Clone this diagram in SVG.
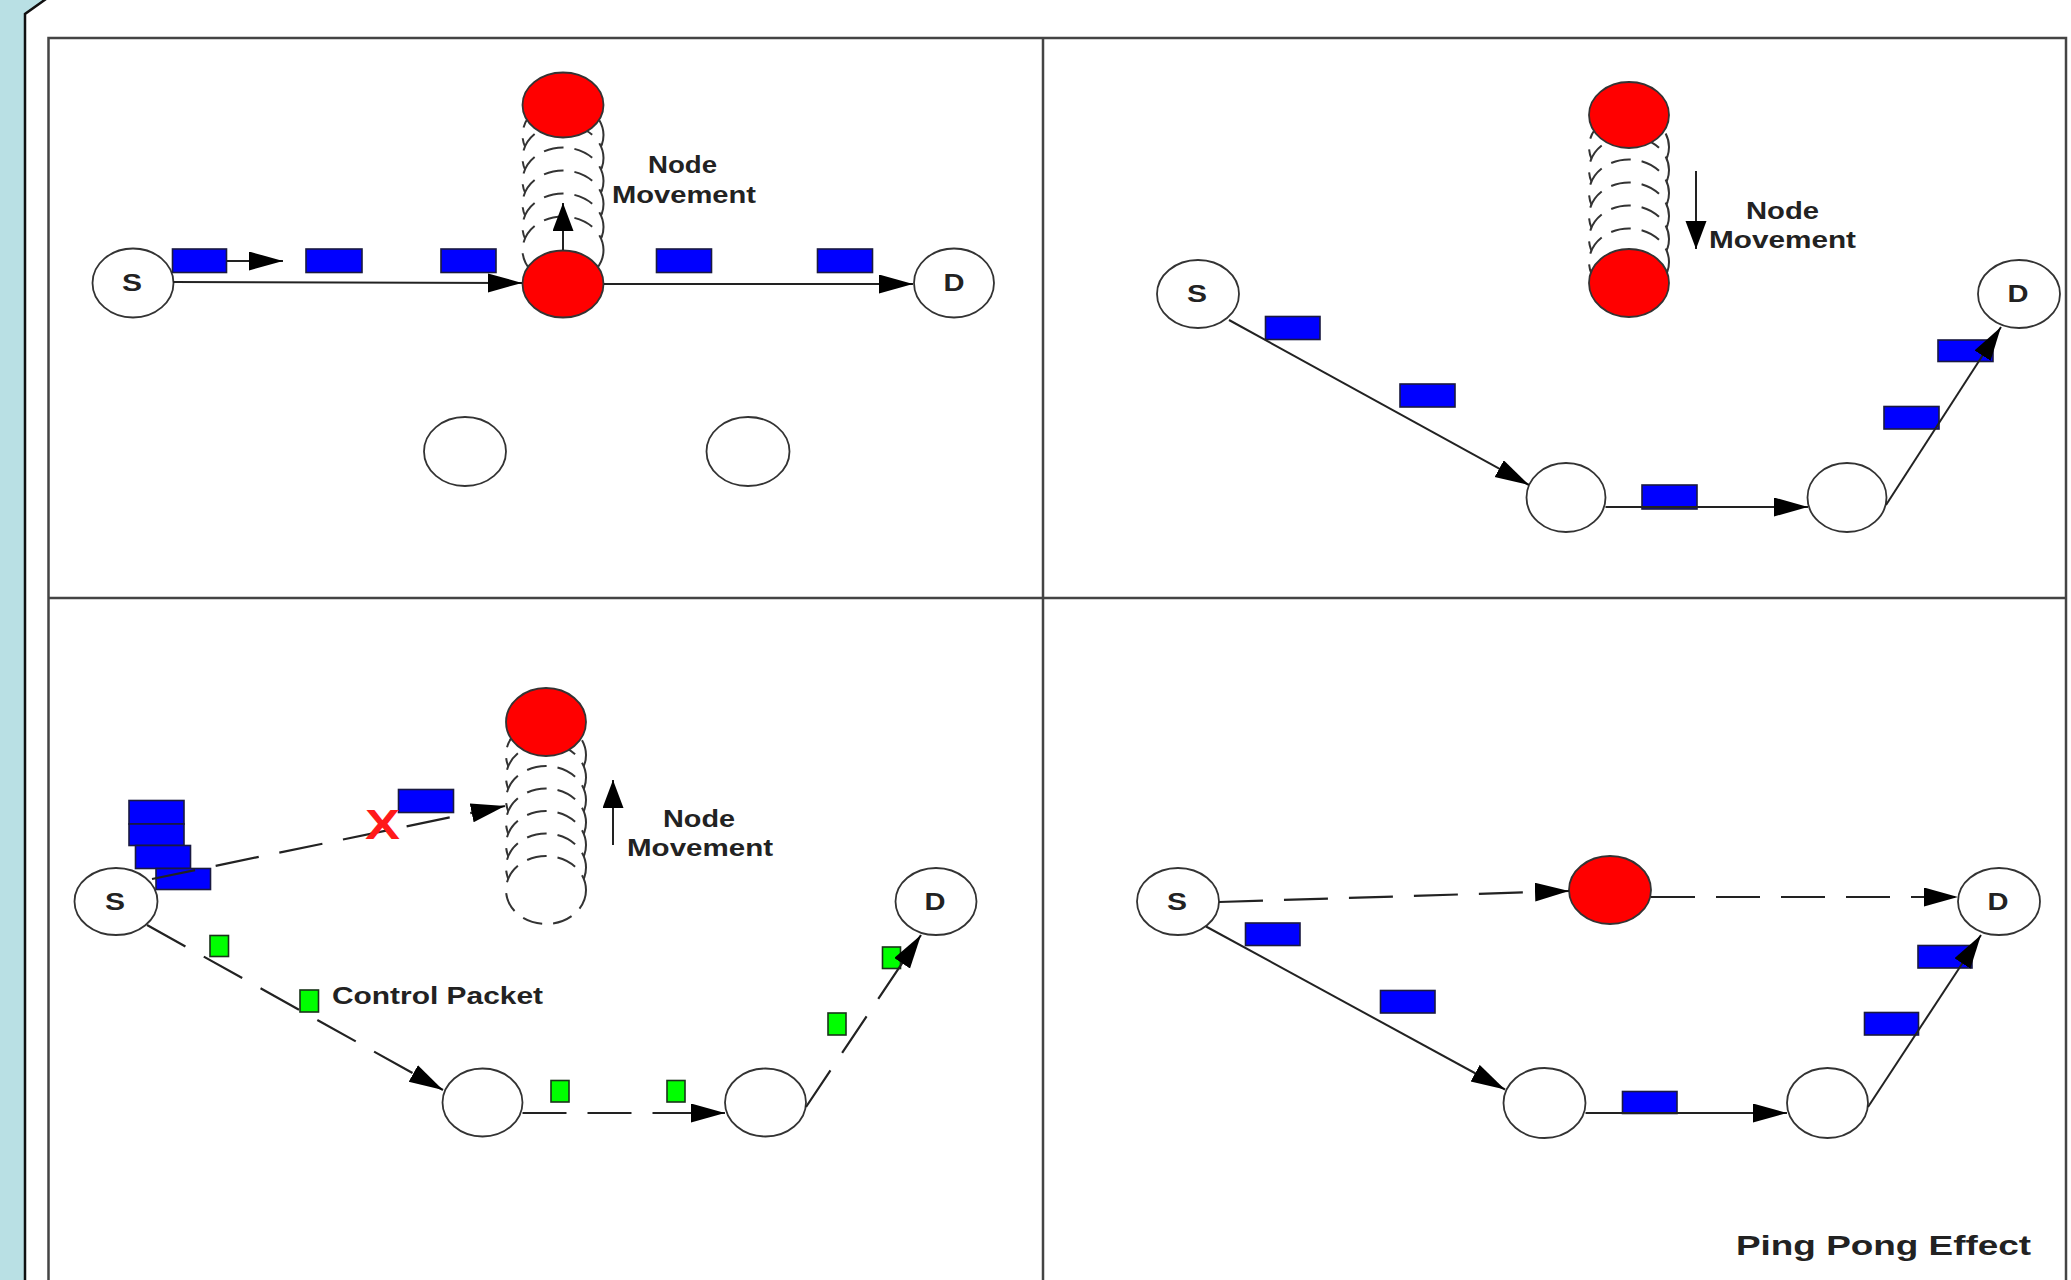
<svg xmlns="http://www.w3.org/2000/svg" width="2071" height="1280" viewBox="0 0 2071 1280">
<style>
.frame{fill:none;stroke:#444;stroke-width:2.5}
.node{fill:#fff;stroke:#333;stroke-width:1.8}
.red{fill:#ff0000;stroke:#333;stroke-width:1.8}
.ghost{fill:#fff;stroke:#333;stroke-width:2;stroke-dasharray:20 11}
.pkt{fill:#0000ff;stroke:#1a1a40;stroke-width:1.6}
.ctl{fill:#00ff00;stroke:#1a331a;stroke-width:1.6}
.ln{fill:none;stroke:#222;stroke-width:2;marker-end:url(#ah)}
.dl{fill:none;stroke:#222;stroke-width:2.2;stroke-dasharray:44 21;marker-end:url(#ah)}
.vl{fill:none;stroke:#222;stroke-width:2;marker-end:url(#av)}
.lbl{font-family:"Liberation Sans",Arial,sans-serif;font-weight:bold;fill:#222}
.nl{font-family:"Liberation Sans",Arial,sans-serif;font-weight:bold;font-size:24px;fill:#222;text-anchor:middle}
</style>
<defs>
<marker id="ah" markerUnits="userSpaceOnUse" markerWidth="36" markerHeight="20" refX="34" refY="9.5" orient="auto">
<path d="M0,0 L34,9.5 L0,19 z" fill="#000"/>
</marker>
<marker id="av" markerUnits="userSpaceOnUse" markerWidth="30" markerHeight="22" refX="28" refY="10.5" orient="auto">
<path d="M0,0 L28,10.5 L0,21 z" fill="#000"/>
</marker>
</defs>
<g id="background">
<rect x="0" y="0" width="2071" height="1280" fill="#fff"/>
<polygon points="0,0 46,0 25,14 25,1280 0,1280" fill="#b9e0e4"/>
<polyline points="25,1282 25,14 46,-1" fill="none" stroke="#111" stroke-width="2.5"/>
<rect class="frame" x="48.5" y="38" width="2017.5" height="1262"/>
<line class="frame" x1="1043" y1="38" x2="1043" y2="1290"/>
<line class="frame" x1="48.5" y1="598" x2="2066" y2="598"/>
</g>
<g id="ghost-trails">
<ellipse class="ghost" cx="563" cy="135" rx="40.5" ry="33.5"/>
<ellipse class="ghost" cx="563" cy="158" rx="40.5" ry="33.5"/>
<ellipse class="ghost" cx="563" cy="181" rx="40.5" ry="33.5"/>
<ellipse class="ghost" cx="563" cy="204" rx="40.5" ry="33.5"/>
<ellipse class="ghost" cx="563" cy="227" rx="40.5" ry="33.5"/>
<ellipse class="ghost" cx="563" cy="250" rx="40.5" ry="33.5"/>
<ellipse class="ghost" cx="1629" cy="147" rx="40" ry="33.5"/>
<ellipse class="ghost" cx="1629" cy="170" rx="40" ry="33.5"/>
<ellipse class="ghost" cx="1629" cy="193" rx="40" ry="33.5"/>
<ellipse class="ghost" cx="1629" cy="216" rx="40" ry="33.5"/>
<ellipse class="ghost" cx="1629" cy="239" rx="40" ry="33.5"/>
<ellipse class="ghost" cx="1629" cy="262" rx="40" ry="33.5"/>
<ellipse class="ghost" cx="546" cy="755" rx="40" ry="34"/>
<ellipse class="ghost" cx="546" cy="777.5" rx="40" ry="34"/>
<ellipse class="ghost" cx="546" cy="800" rx="40" ry="34"/>
<ellipse class="ghost" cx="546" cy="822.5" rx="40" ry="34"/>
<ellipse class="ghost" cx="546" cy="845" rx="40" ry="34"/>
<ellipse class="ghost" cx="546" cy="867.5" rx="40" ry="34"/>
<ellipse class="ghost" cx="546" cy="890" rx="40" ry="34"/>
</g>
<g id="p1-S"><ellipse class="node" cx="133" cy="283" rx="40.5" ry="34.5"/><text class="nl" x="132" y="291" textLength="20" lengthAdjust="spacingAndGlyphs">S</text></g>
<g id="p1-red-top"><ellipse class="red" cx="563" cy="105" rx="40.5" ry="32.5"/></g>
<g id="p1-red"><ellipse class="red" cx="563" cy="284" rx="40.5" ry="33.5"/></g>
<g id="p1-D"><ellipse class="node" cx="954" cy="283" rx="40" ry="34.5"/><text class="nl" x="954" y="291" textLength="21" lengthAdjust="spacingAndGlyphs">D</text></g>
<g id="p1-n1"><ellipse class="node" cx="465" cy="451.5" rx="41" ry="34.5"/></g>
<g id="p1-n2"><ellipse class="node" cx="748" cy="451.5" rx="41.5" ry="34.5"/></g>
<g id="p2-S"><ellipse class="node" cx="1198" cy="294" rx="41" ry="34"/><text class="nl" x="1197" y="302" textLength="20" lengthAdjust="spacingAndGlyphs">S</text></g>
<g id="p2-red-top"><ellipse class="red" cx="1629" cy="115" rx="40" ry="33"/></g>
<g id="p2-red"><ellipse class="red" cx="1629" cy="283" rx="40" ry="34"/></g>
<g id="p2-D"><ellipse class="node" cx="2019" cy="294" rx="41" ry="34"/><text class="nl" x="2018" y="302" textLength="21" lengthAdjust="spacingAndGlyphs">D</text></g>
<g id="p2-n1"><ellipse class="node" cx="1566" cy="497.5" rx="39.5" ry="34.5"/></g>
<g id="p2-n2"><ellipse class="node" cx="1847" cy="497.5" rx="39.5" ry="34.5"/></g>
<g id="p3-S"><ellipse class="node" cx="116" cy="901.5" rx="41.5" ry="33.5"/><text class="nl" x="115" y="910" textLength="20" lengthAdjust="spacingAndGlyphs">S</text></g>
<g id="p3-red"><ellipse class="red" cx="546" cy="722" rx="40" ry="34"/></g>
<g id="p3-D"><ellipse class="node" cx="936" cy="901.5" rx="40.5" ry="33.5"/><text class="nl" x="935" y="910" textLength="21" lengthAdjust="spacingAndGlyphs">D</text></g>
<g id="p3-n1"><ellipse class="node" cx="482.5" cy="1102.5" rx="40" ry="34"/></g>
<g id="p3-n2"><ellipse class="node" cx="765.5" cy="1102.5" rx="40.5" ry="34"/></g>
<g id="p4-S"><ellipse class="node" cx="1178" cy="901.5" rx="41" ry="33.5"/><text class="nl" x="1177" y="910" textLength="20" lengthAdjust="spacingAndGlyphs">S</text></g>
<g id="p4-red"><ellipse class="red" cx="1610" cy="890" rx="41" ry="34"/></g>
<g id="p4-D"><ellipse class="node" cx="1999" cy="901.5" rx="41" ry="33.5"/><text class="nl" x="1998" y="910" textLength="21" lengthAdjust="spacingAndGlyphs">D</text></g>
<g id="p4-n1"><ellipse class="node" cx="1544.5" cy="1103" rx="41" ry="35"/></g>
<g id="p4-n2"><ellipse class="node" cx="1827.5" cy="1103" rx="40.5" ry="35"/></g>
<g id="packets">
<rect class="pkt" x="172.5" y="249" width="54" height="23.5"/>
<rect class="pkt" x="306" y="249" width="56" height="23.5"/>
<rect class="pkt" x="441" y="249" width="55" height="23.5"/>
<rect class="pkt" x="656.5" y="249" width="55" height="23.5"/>
<rect class="pkt" x="817.5" y="249" width="55" height="23.5"/>
<rect class="pkt" x="1265.5" y="316.5" width="54.5" height="23"/>
<rect class="pkt" x="1400" y="384" width="55" height="23"/>
<rect class="pkt" x="1642" y="485" width="55" height="24"/>
<rect class="pkt" x="1884" y="406.5" width="55" height="22.5"/>
<rect class="pkt" x="1938" y="340" width="55" height="21.5"/>
<rect class="pkt" x="129" y="800.5" width="55" height="23.5"/>
<rect class="pkt" x="129" y="824" width="55" height="21.5"/>
<rect class="pkt" x="135.5" y="845.5" width="55" height="23"/>
<rect class="pkt" x="156" y="868.5" width="54.5" height="21"/>
<rect class="pkt" x="398.5" y="789.5" width="55" height="23"/>
<rect class="pkt" x="1245.5" y="923" width="54.5" height="22.5"/>
<rect class="pkt" x="1380.5" y="990.5" width="54.5" height="22.5"/>
<rect class="pkt" x="1622.5" y="1091.5" width="54.5" height="22"/>
<rect class="pkt" x="1864.5" y="1012.5" width="54" height="22.5"/>
<rect class="pkt" x="1918" y="945.5" width="54" height="22.5"/>
<rect class="ctl" x="210" y="935.5" width="18.5" height="21"/>
<rect class="ctl" x="300" y="990" width="18.5" height="22"/>
<rect class="ctl" x="551" y="1080.5" width="18" height="21.5"/>
<rect class="ctl" x="667" y="1080.5" width="18" height="21.5"/>
<rect class="ctl" x="828" y="1013" width="18" height="22"/>
<rect class="ctl" x="882.5" y="947" width="18" height="21.5"/>
</g>
<g id="connectors">
<line class="ln" x1="227" y1="261" x2="283" y2="261"/>
<line class="ln" x1="173" y1="282" x2="522" y2="283"/>
<line class="ln" x1="604" y1="284" x2="913" y2="284"/>
<line class="vl" x1="563" y1="250" x2="563" y2="203"/>
<line class="ln" x1="1229" y1="320" x2="1529" y2="485"/>
<line class="ln" x1="1605.5" y1="507" x2="1808" y2="507"/>
<line class="ln" x1="1886" y1="505" x2="2001" y2="327"/>
<line class="vl" x1="1696" y1="171" x2="1696" y2="249"/>
<line class="dl" x1="152" y1="879" x2="505" y2="806"/>
<line class="dl" x1="147" y1="925" x2="443" y2="1090"/>
<line class="dl" x1="522.5" y1="1113" x2="725" y2="1113"/>
<line class="dl" x1="806" y1="1107" x2="921" y2="935"/>
<line class="vl" x1="613" y1="845" x2="613" y2="780"/>
<line class="dl" x1="1219" y1="902" x2="1569" y2="891"/>
<line class="dl" x1="1651" y1="897" x2="1958" y2="897"/>
<line class="ln" x1="1206" y1="926.5" x2="1505" y2="1089.5"/>
<line class="ln" x1="1585.5" y1="1113" x2="1787" y2="1113"/>
<line class="ln" x1="1868" y1="1107" x2="1981" y2="935"/>
</g>
<g id="labels">
<text class="lbl" font-size="24" x="648" y="173" textLength="69" lengthAdjust="spacingAndGlyphs">Node</text>
<text class="lbl" font-size="24" x="612" y="203" textLength="144" lengthAdjust="spacingAndGlyphs">Movement</text>
<text class="lbl" font-size="24" x="1746" y="219" textLength="73" lengthAdjust="spacingAndGlyphs">Node</text>
<text class="lbl" font-size="24" x="1709" y="248" textLength="147" lengthAdjust="spacingAndGlyphs">Movement</text>
<text class="lbl" font-size="24" x="663" y="827" textLength="72" lengthAdjust="spacingAndGlyphs">Node</text>
<text class="lbl" font-size="24" x="627" y="856" textLength="146" lengthAdjust="spacingAndGlyphs">Movement</text>
<text class="lbl" font-size="24" x="332" y="1003.5" textLength="211" lengthAdjust="spacingAndGlyphs">Control Packet</text>
<text class="lbl" font-size="28" x="1736" y="1255" textLength="295" lengthAdjust="spacingAndGlyphs">Ping Pong Effect</text>
<text font-family="Liberation Sans,Arial,sans-serif" font-weight="bold" font-size="42" fill="#ff1a1a" x="365" y="839" textLength="35" lengthAdjust="spacingAndGlyphs">X</text>
</g>
</svg>
